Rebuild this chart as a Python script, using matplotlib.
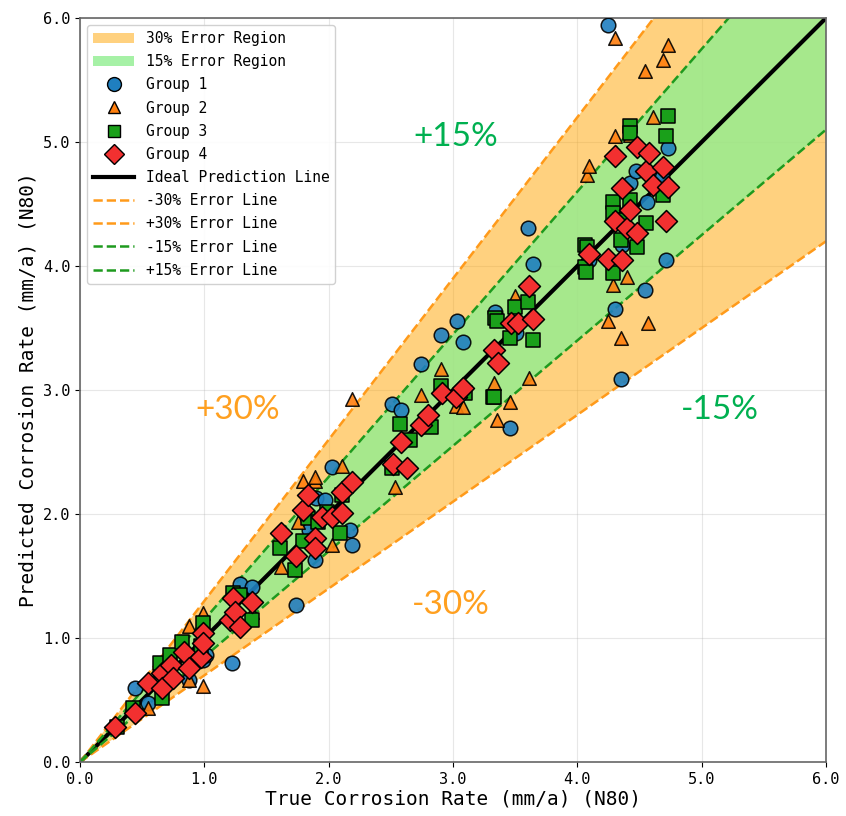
import matplotlib

matplotlib.use('Agg')

import matplotlib.pyplot as plt
import numpy as np
from matplotlib.lines import Line2D
from matplotlib.patches import Patch

# measured vs predicted corrosion rates, four sample groups
x1 = [0.44, 0.55, 0.64, 0.88, 0.99, 1.01, 1.22, 1.29, 1.38, 1.74, 1.84, 1.89, 1.90, 1.97,
      2.03, 2.19, 2.17, 2.51, 2.58, 2.74, 2.90, 3.03, 3.08, 3.34, 3.51, 3.46, 3.60, 3.64,
      4.09, 4.25, 4.30, 4.35, 4.36, 4.42, 4.47, 4.54, 4.56, 4.68, 4.71, 4.73]
y1 = [0.60, 0.48, 0.73, 0.66, 0.82, 0.86, 0.80, 1.44, 1.41, 1.27, 1.87, 1.63, 2.13, 2.11,
      2.38, 1.75, 1.87, 2.89, 2.84, 3.21, 3.44, 3.56, 3.39, 3.63, 3.46, 2.69, 4.31, 4.02,
      4.05, 5.94, 3.65, 3.09, 4.17, 4.67, 4.77, 3.81, 4.52, 4.72, 4.05, 4.95]

x2 = [0.55, 0.88, 0.88, 0.99, 0.99, 1.38, 1.62, 1.75, 1.79, 1.89, 1.89, 2.03, 2.11, 2.19,
      2.53, 2.74, 2.90, 3.02, 3.08, 3.33, 3.35, 3.46, 3.50, 3.61, 4.08, 4.09, 4.25, 4.29,
      4.30, 4.30, 4.35, 4.40, 4.42, 4.54, 4.57, 4.61, 4.69, 4.73]
y2 = [0.44, 1.10, 0.66, 1.20, 0.61, 1.21, 1.57, 1.94, 2.27, 2.27, 2.30, 1.75, 2.39, 2.93,
      2.22, 2.96, 3.17, 2.87, 2.86, 3.06, 2.76, 2.90, 3.76, 3.10, 4.73, 4.81, 3.56, 3.85,
      5.05, 5.84, 3.42, 3.91, 5.06, 5.57, 3.54, 5.20, 5.66, 5.78]

x3 = [0.30, 0.43, 0.64, 0.66, 0.72, 0.82, 0.97, 0.99, 1.23, 1.29, 1.38, 1.61, 1.73, 1.79,
      1.83, 1.91, 1.99, 2.09, 2.11, 2.51, 2.57, 2.65, 2.82, 2.90, 3.10, 3.32, 3.33, 3.34,
      3.35, 3.46, 3.50, 3.60, 3.64, 4.06, 4.06, 4.07, 4.08, 4.29, 4.29, 4.29, 4.34, 4.35,
      4.42, 4.42, 4.42, 4.48, 4.55, 4.69, 4.71, 4.73]
y3 = [0.28, 0.44, 0.80, 0.52, 0.86, 0.97, 0.94, 1.12, 1.36, 1.35, 1.15, 1.73, 1.55, 1.78,
      1.97, 1.94, 2.02, 1.85, 2.15, 2.37, 2.73, 2.60, 2.70, 3.03, 2.98, 2.94, 2.94, 3.58,
      3.56, 3.42, 3.67, 3.71, 3.40, 3.99, 4.17, 3.95, 4.15, 4.52, 4.43, 3.94, 4.37, 4.21,
      5.13, 5.07, 4.53, 4.15, 4.35, 4.57, 5.05, 5.21]

x4 = [0.28, 0.44, 0.55, 0.66, 0.66, 0.73, 0.75, 0.84, 0.88, 0.97, 0.99, 0.99, 1.21, 1.23,
      1.25, 1.29, 1.38, 1.62, 1.74, 1.79, 1.83, 1.89, 1.89, 1.95, 2.03, 2.11, 2.11, 2.19,
      2.52, 2.58, 2.63, 2.74, 2.80, 2.91, 3.02, 3.08, 3.33, 3.36, 3.47, 3.52, 3.61, 3.64,
      4.09, 4.25, 4.30, 4.30, 4.36, 4.36, 4.40, 4.42, 4.48, 4.48, 4.55, 4.58, 4.61, 4.69,
      4.71, 4.73]
y4 = [0.28, 0.40, 0.64, 0.72, 0.60, 0.78, 0.68, 0.89, 0.76, 0.85, 1.04, 0.96, 1.15, 1.32,
      1.21, 1.09, 1.29, 1.85, 1.66, 2.03, 2.15, 1.81, 1.73, 1.98, 1.98, 2.18, 2.01, 2.26,
      2.40, 2.58, 2.37, 2.72, 2.80, 2.98, 2.94, 3.02, 3.32, 3.22, 3.54, 3.54, 3.84, 3.57,
      4.10, 4.06, 4.89, 4.36, 4.63, 4.05, 4.31, 4.45, 4.96, 4.27, 4.77, 4.91, 4.65, 4.80,
      4.36, 4.64]

ticks = [0.0, 1.0, 2.0, 3.0, 4.0, 5.0, 6.0]
lim = 6.0

plt.rcParams['font.family'] = 'DejaVu Sans Mono'

fig = plt.figure(figsize=(8.46, 8.16), dpi=100)
ax = fig.add_axes([0.0946, 0.066, 0.8818, 0.912])

xx = np.linspace(0, lim, 200)
ax.fill_between(xx, 0.7 * xx, 1.3 * xx, color='#FFA500', alpha=0.5, lw=0, zorder=1)
ax.fill_between(xx, 0.85 * xx, 1.15 * xx, color='#90EE90', alpha=0.8, lw=0, zorder=1.1)

ax.plot(xx, xx, color='black', lw=3, zorder=2)
ax.plot(xx, 0.7 * xx, color='#FF9A1A', ls='--', lw=1.8, zorder=2)
ax.plot(xx, 1.3 * xx, color='#FF9A1A', ls='--', lw=1.8, zorder=2)
ax.plot(xx, 0.85 * xx, color='#1E9A1E', ls='--', lw=1.8, zorder=2)
ax.plot(xx, 1.15 * xx, color='#1E9A1E', ls='--', lw=1.8, zorder=2)

ax.scatter(x1, y1, s=110, marker='o', color='#1f7fc0', edgecolor='black', lw=1.1, alpha=0.9, zorder=3)
ax.scatter(x2, y2, s=95, marker='^', color='#ff7f0e', edgecolor='black', lw=1.1, alpha=0.9, zorder=4)
ax.scatter(x3, y3, s=105, marker='s', color='#1aa01a', edgecolor='black', lw=1.1, zorder=5)
ax.scatter(x4, y4, s=125, marker='D', color='#f23030', edgecolor='black', lw=1.1, zorder=6)

# band labels
ax.text(3.02, 5.04, '+15%', color='#00B050', fontsize=24, family='Lato', ha='center', va='center')
ax.text(1.27, 2.84, '+30%', color='#FFA020', fontsize=24, family='Lato', ha='center', va='center')
ax.text(5.15, 2.84, '-15%', color='#00B050', fontsize=24, family='Lato', ha='center', va='center')
ax.text(2.98, 1.27, '-30%', color='#FFA020', fontsize=24, family='Lato', ha='center', va='center')

ax.set_xlim(0, lim)
ax.set_ylim(0, lim)
ax.set_xticks(ticks)
ax.set_yticks(ticks)
ax.set_xticklabels([f'{t:.1f}' for t in ticks], fontsize=11)
ax.set_yticklabels([f'{t:.1f}' for t in ticks], fontsize=11)
ax.set_xlabel('True Corrosion Rate (mm/a) (N80)', fontsize=14, labelpad=2)
ax.set_ylabel('Predicted Corrosion Rate (mm/a) (N80)', fontsize=14, labelpad=4)
ax.grid(alpha=0.3)
ax.set_axisbelow(True)
for sp in ax.spines.values():
    sp.set_color('#666666')
    sp.set_linewidth(1.2)

handles = [
    Patch(facecolor='#FFA500', alpha=0.5, label='30% Error Region'),
    Patch(facecolor='#90EE90', alpha=0.8, label='15% Error Region'),
    Line2D([], [], ls='', marker='o', ms=10, mfc='#1f7fc0', mec='black', label='Group 1'),
    Line2D([], [], ls='', marker='^', ms=9, mfc='#ff7f0e', mec='black', label='Group 2'),
    Line2D([], [], ls='', marker='s', ms=9, mfc='#1aa01a', mec='black', label='Group 3'),
    Line2D([], [], ls='', marker='D', ms=10, mfc='#f23030', mec='black', label='Group 4'),
    Line2D([], [], color='black', lw=3, label='Ideal Prediction Line'),
    Line2D([], [], color='#FF9A1A', ls='--', lw=1.8, label='-30% Error Line'),
    Line2D([], [], color='#FF9A1A', ls='--', lw=1.8, label='+30% Error Line'),
    Line2D([], [], color='#1E9A1E', ls='--', lw=1.8, label='-15% Error Line'),
    Line2D([], [], color='#1E9A1E', ls='--', lw=1.8, label='+15% Error Line'),
]
ax.legend(handles=handles, loc='upper left', fontsize=10.5, framealpha=0.9,
          handlelength=2.8, labelspacing=0.56)

fig.savefig('out.png', dpi=100)
